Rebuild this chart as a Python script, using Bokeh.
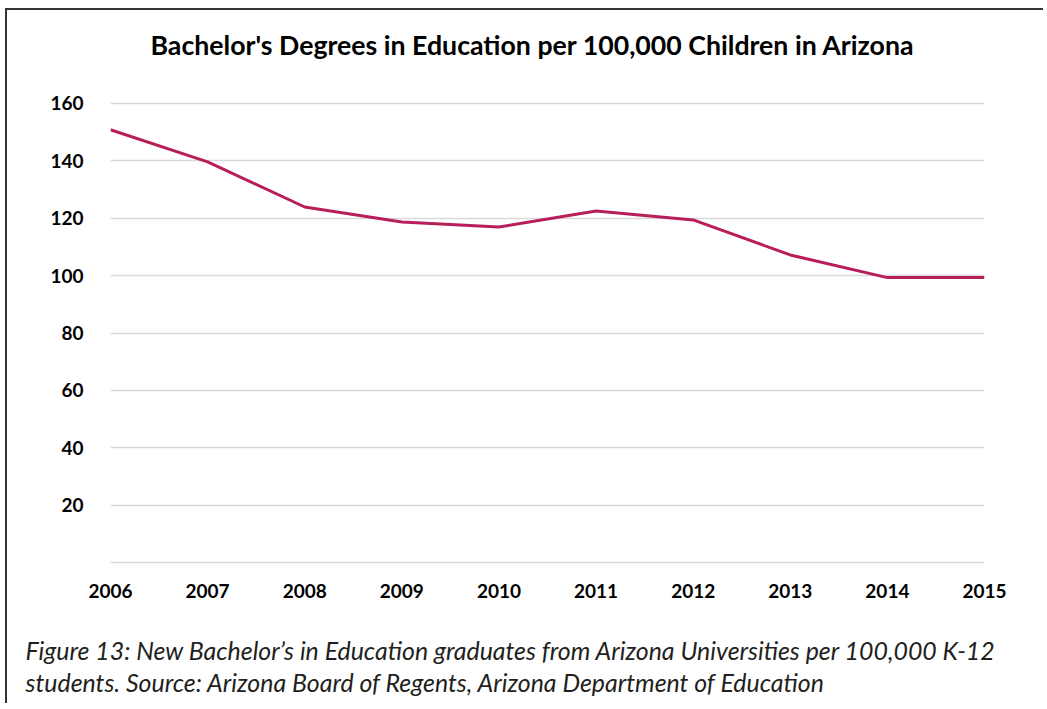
from bokeh.plotting import figure
from bokeh.models import Range1d, FixedTicker, Title
from bokeh.embed import file_html
from bokeh.resources import INLINE

years = [2006, 2007, 2008, 2009, 2010, 2011, 2012, 2013, 2014, 2015]
degrees = [150.8, 139.6, 123.9, 118.7, 116.9, 122.5, 119.4, 107.2, 99.3, 99.3]
y_ticks = [0, 20, 40, 60, 80, 100, 120, 140, 160]
title_text = "Bachelor's Degrees in Education per 100,000 Children in Arizona"
caption_lines = [
    "Figure 13: New Bachelor\u2019s in Education graduates from Arizona Universities per 100,000 K-12",
    "students. Source: Arizona Board of Regents, Arizona Department of Education",
]

p = figure(width=1038, height=695, x_range=Range1d(2006, 2015), y_range=Range1d(-1, 161),
           output_backend="svg", toolbar_location=None,
           min_border_left=103, min_border_right=61, min_border_top=90, min_border_bottom=140)
p.outline_line_color = None
p.styles = {"border-left": "2px solid #333333", "border-top": "2px solid #333333",
            "margin-left": "5px", "margin-top": "8px"}

p.line(years, degrees, line_color="#B81E5A", line_width=3)

p.xgrid.visible = False
p.ygrid.ticker = FixedTicker(ticks=y_ticks)
p.ygrid.grid_line_color = "#d9d9d9"
p.ygrid.grid_line_width = 1.5

p.xaxis.ticker = FixedTicker(ticks=years)
p.yaxis.ticker = FixedTicker(ticks=y_ticks)
p.yaxis.major_label_overrides = {0: ""}
for ax in (p.xaxis, p.yaxis):
    ax.axis_line_color = None
    ax.major_tick_line_color = None
    ax.minor_tick_line_color = None
    ax.major_label_text_font = "Lato"
    ax.major_label_text_font_style = "bold"
    ax.major_label_text_font_size = "19px"
    ax.major_label_text_color = "#000000"
p.xaxis.major_label_standoff = 12
p.yaxis.major_label_standoff = 21

# spacer between frame and title, then the title
p.add_layout(Title(text=" ", text_font_size="12px", standoff=24), "above")
p.add_layout(Title(text=title_text, align="left", offset=40, standoff=0,
                   text_font="Lato", text_font_style="bold", text_font_size="26.7px",
                   text_color="#000000"), "above")

# spacer between x-axis labels and caption
p.add_layout(Title(text=" ", text_font_size="12px", standoff=16), "below")
for line in caption_lines:
    p.add_layout(Title(text=line, align="left", offset=-85, standoff=0,
                       text_font="Lato", text_font_style="italic", text_font_size="24.9px",
                       text_color="#231f20"), "below")

open("out.html", "w").write(file_html(p, INLINE))
